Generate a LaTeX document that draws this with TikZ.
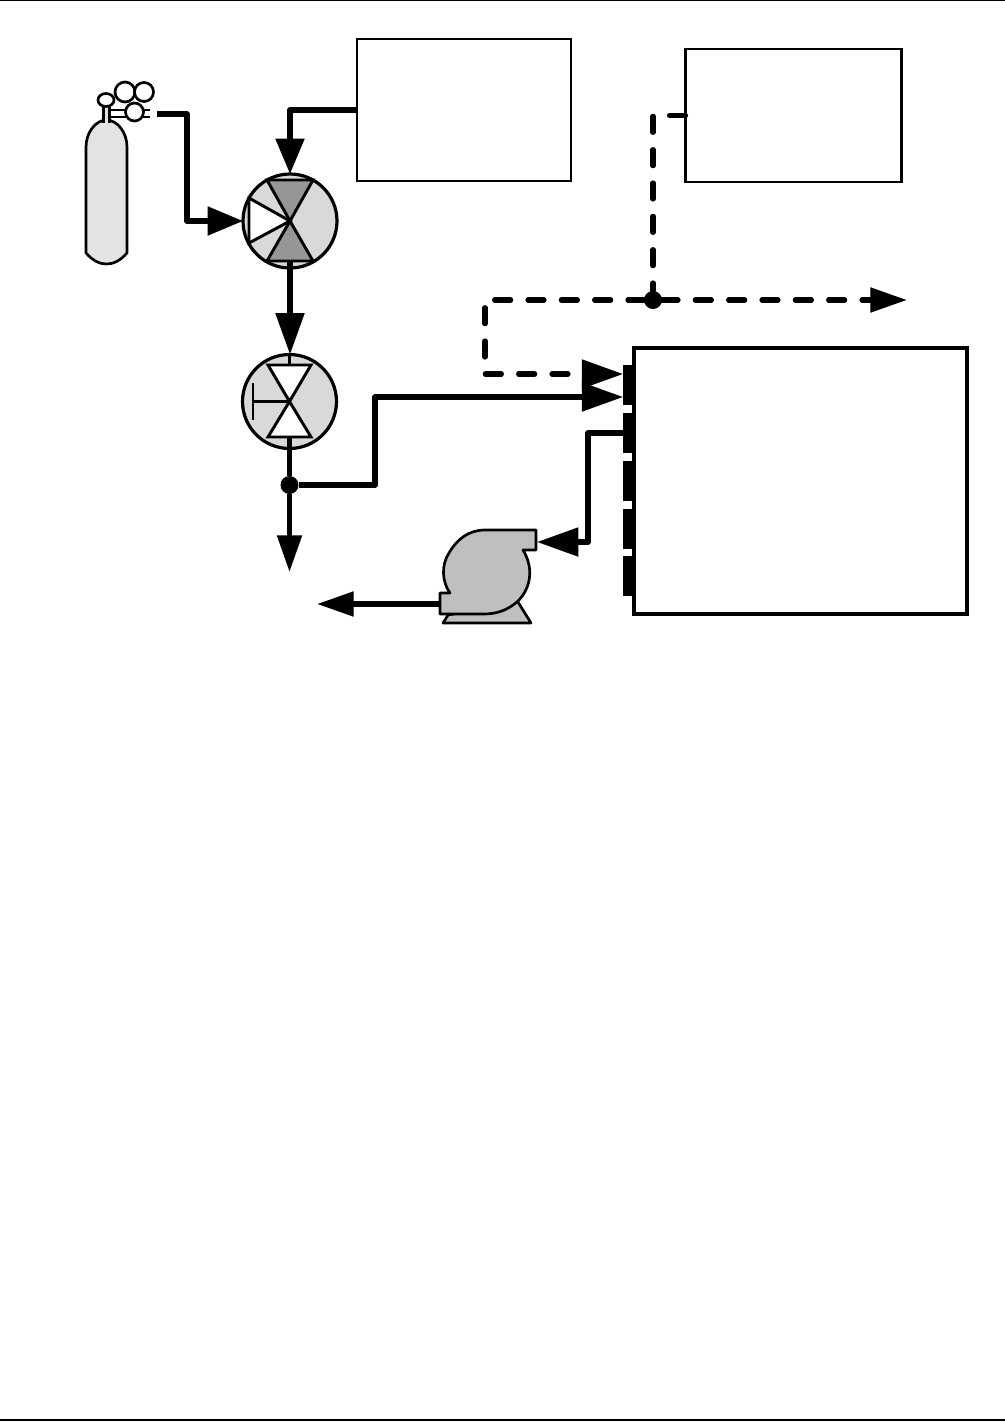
\documentclass[tikz,border=0pt]{standalone}
\usepackage{xcolor}
\usetikzlibrary{arrows.meta, positioning, calc}
\definecolor{ValveLight}{HTML}{D9D9D9}
\definecolor{ValveDark}{HTML}{969696}
\definecolor{TankGray}{HTML}{E3E3E3}
\definecolor{PumpGray}{HTML}{BFBFBF}

\begin{document}
\begin{tikzpicture}[
    x=0.75pt, y=-0.75pt,
    inst/.style={
      rectangle, draw=black, fill=white, line width=2.2pt, inner sep=0pt, outer sep=0pt
    },
    valve/.style={
      circle, draw=black, fill=ValveLight, line width=2.4pt, minimum size=70.5pt, inner sep=0pt, outer sep=0pt
    },
    port/.style={
      rectangle, fill=black, minimum width=9.5pt, minimum height=29.5pt, inner sep=0pt, outer sep=0pt
    },
    junction/.style={circle, fill=black, minimum size=13.5pt, inner sep=0pt, outer sep=0pt},
    vane/.style={draw=black, line width=2.2pt, line join=miter},
    symb/.style={draw=black, line width=2pt, line join=round},
    pipe/.style={line width=3.9pt, line join=round, color=black},
    arr/.style={-{Triangle[length=31pt, width=21pt]}},
    feed arr/.style={-{Triangle[length=26.5pt, width=21pt]}},
    short arr/.style={-{Triangle[length=27.5pt, width=18pt]}},
    vent/.style={dash pattern=on 12pt off 13pt, line cap=round}
  ]
    \path[use as bounding box, fill=white] (0,0) rectangle (1005,1422);

    % page rules
    \coordinate (topl) at (0,0.7);
    \coordinate (topr) at (1005,0.7);
    \coordinate (botl) at (0,1420);
    \coordinate (botr) at (1005,1420);
    \draw[line width=0.9pt] (topl) -- (topr);
    \draw[line width=0.9pt] (botl) -- (botr);

    % instruments
    \node[inst, minimum width=160.5pt, minimum height=106.5pt] (zerobox) at (464,110) {};
    \node[inst, minimum width=162pt, minimum height=99.75pt] (ventbox) at (793.5,115.5) {};
    \node[inst, line width=3pt, minimum width=250pt, minimum height=199.5pt] (analyzer) at (800.5,481) {};

    % ports on the analyzer
    \node[port] (porta) at (629.5,385) {};
    \node[port] (portb) at (629.5,433) {};
    \node[port] (portc) at (629.5,481) {};
    \node[port] (portd) at (629.5,529) {};
    \node[port] (porte) at (629.5,576) {};

    % gas cylinder
    \draw[symb, fill=TankGray] (86,253) -- (86,147) .. controls (86,132) and (96,120) .. (106.5,120)
      .. controls (117,120) and (127,132) .. (127,147) -- (127,253)
      .. controls (120,261) and (113,264) .. (106.5,264) .. controls (100,264) and (93,261) .. (86,253) -- cycle;
    \draw[symb, fill=TankGray] (103.5,123) -- (103.5,105) -- (109.5,105) -- (109.5,123);
    \draw[symb, fill=white] (106,100) ellipse (8 and 6.5);
    \draw[symb, fill=white] (125,92) circle (10);
    \draw[symb, fill=white] (144,92) circle (9.5);
    \draw[symb] (109,110) -- (150,110);
    \draw[symb] (109,117) -- (150,117);
    \draw[symb, fill=white] (134.5,112) circle (9);
    \coordinate (regout) at (157,114);

    % valves
    \node[valve] (valvea) at (290,221) {};
    \node[valve] (valveb) at (289.5,401.5) {};
    \draw[vane, fill=ValveDark] (valvea.center) -- ++(-23,-41) -- ++(46,0) -- cycle;
    \draw[vane, fill=ValveDark] (valvea.center) -- ++(-23,40) -- ++(46,0) -- cycle;
    \draw[vane, fill=white] (valvea.center) -- ++(-41,-23) -- ++(0,45) -- cycle;
    \draw[vane, fill=white] (valveb.center) -- ++(-21.5,-36.5) -- ++(43,0) -- cycle;
    \draw[vane, fill=white] (valveb.center) -- ++(-21.5,35.5) -- ++(43,0) -- cycle;
    \coordinate (stem) at (253,401.5);
    \draw[symb] (valveb.center) -- (stem);
    \draw[symb] (253,383) -- (253,420);
    \coordinate (valveaout) at (290,261);
    \coordinate (valvebin) at (289.5,365);
    \coordinate (valvebout) at (289.5,437);
    \draw[symb] (valveb.north) -- (valvebin);

    % pump
    \draw[symb, fill=PumpGray] (448,615) -- (443,623) -- (531,623) -- (518,602) -- cycle;
    \draw[symb, fill=PumpGray] (536,530) -- (536,550) -- (523,550) .. controls (534,568) and (531,588) .. (518,601)
      .. controls (508,610) and (497,614) .. (484,614) -- (440,614) -- (440,593) -- (450,593)
      .. controls (442,582) and (441,565) .. (449,553) .. controls (457,539) and (469,530) .. (485,530) -- cycle;
    \coordinate (pumpin) at (537,542);
    \coordinate (pumpout) at (440,604);
    \coordinate (exhaust) at (317,604);

    % flow paths
    \node[junction] (joina) at (289.5,485) {};
    \node[junction] (joinb) at (653,300) {};
    \coordinate (drain) at (289.5,572);
    \coordinate (ventout) at (907,300);

    \draw[pipe, feed arr] (regout) -- (187,114) -- (187,221) -- (valvea.west);
    \draw[pipe, feed arr] (zerobox.west) -| (valvea.north);
    \draw[pipe, arr] (valveaout) -- (valvea.center |- valveb.north);
    \draw[pipe] (valvebout) -- (joina);
    \draw[pipe, short arr] (joina) -- (drain);
    \draw[pipe, arr] (joina) -- (375,485) -- (375,397) -- (porta.west |- 0,397);
    \draw[pipe, arr] (portb.west) -- (588,433) -- (588,542) -- (pumpin);
    \draw[pipe, short arr] (pumpout) -- (exhaust);
    \draw[pipe, vent] (ventbox.west) -| (joinb);
    \draw[pipe, vent, short arr] (joinb) -- (ventout);
    \draw[pipe, vent, arr] (joinb) -- (485,300) -- (485,374) -- (porta.west |- 0,374);
\end{tikzpicture}
\end{document}
